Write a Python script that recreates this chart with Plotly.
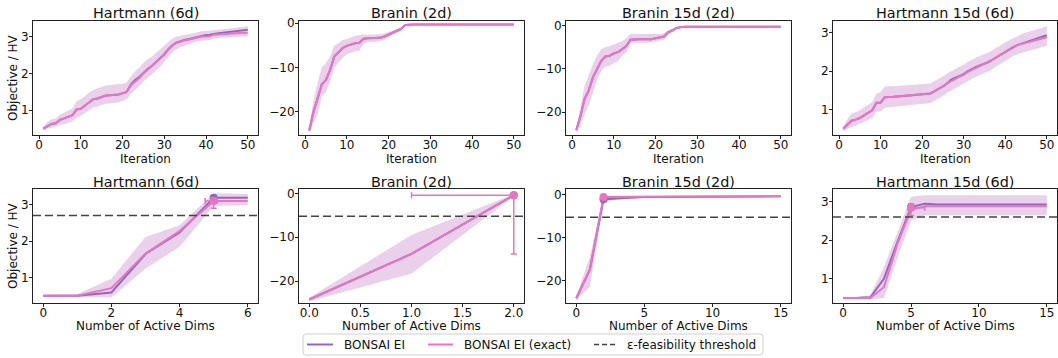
import plotly.graph_objects as go

W, H = 1058, 358
PURPLE = "#9467bd"
PINK = "#e377c2"
THR_COLOR = "#444444"
FONT = "DejaVu Sans"

# ---------------- data: top row (objective vs iteration) ----------------
iterations = list(range(1, 51))

h6_bonsai = [0.50, 0.57, 0.63, 0.65, 0.74, 0.78, 0.82, 0.87, 1.02, 1.04,
             1.13, 1.22, 1.30, 1.32, 1.36, 1.40, 1.41, 1.41, 1.43, 1.46,
             1.50, 1.70, 1.82, 1.90, 2.02, 2.12, 2.20, 2.30, 2.40, 2.52,
             2.66, 2.77, 2.84, 2.88, 2.91, 2.93, 2.96, 3.00, 3.03, 3.04,
             3.05, 3.08, 3.09, 3.10, 3.11, 3.12, 3.13, 3.15, 3.17, 3.18]
h6_exact = [0.50, 0.57, 0.63, 0.65, 0.74, 0.78, 0.82, 0.87, 1.02, 1.04,
            1.13, 1.22, 1.30, 1.32, 1.36, 1.40, 1.41, 1.41, 1.43, 1.46,
            1.50, 1.68, 1.78, 1.87, 2.00, 2.10, 2.18, 2.28, 2.38, 2.50,
            2.65, 2.76, 2.83, 2.87, 2.90, 2.92, 2.95, 2.98, 3.00, 3.00,
            3.01, 3.05, 3.06, 3.07, 3.08, 3.08, 3.08, 3.09, 3.10, 3.10]
h6_lo = [0.45, 0.50, 0.53, 0.55, 0.60, 0.63, 0.66, 0.70, 0.80, 0.85,
         0.93, 1.00, 1.08, 1.10, 1.15, 1.18, 1.20, 1.20, 1.22, 1.25,
         1.30, 1.45, 1.55, 1.65, 1.78, 1.88, 1.97, 2.07, 2.18, 2.30,
         2.45, 2.58, 2.66, 2.72, 2.76, 2.80, 2.83, 2.87, 2.89, 2.90,
         2.91, 2.95, 2.96, 2.97, 2.98, 2.99, 2.99, 3.00, 3.00, 3.00]
h6_hi = [0.55, 0.68, 0.76, 0.78, 0.88, 0.93, 0.98, 1.05, 1.25, 1.30,
         1.38, 1.48, 1.55, 1.60, 1.63, 1.67, 1.68, 1.68, 1.70, 1.72,
         1.75, 1.92, 2.05, 2.15, 2.28, 2.38, 2.45, 2.55, 2.63, 2.73,
         2.85, 2.95, 3.00, 3.03, 3.05, 3.07, 3.09, 3.12, 3.14, 3.15,
         3.16, 3.19, 3.20, 3.21, 3.22, 3.23, 3.24, 3.25, 3.26, 3.28]

br_bonsai = [-24.2, -20.0, -17.0, -13.8, -12.8, -10.5, -7.5, -6.5, -5.6, -5.1,
             -4.8, -4.5, -4.4, -3.5, -3.4, -3.4, -3.4, -3.3, -3.0, -2.6,
             -2.2, -1.8, -1.3, -0.4, -0.3, -0.3, -0.3, -0.3, -0.3, -0.3,
             -0.3, -0.3, -0.3, -0.3, -0.3, -0.3, -0.3, -0.3, -0.3, -0.3,
             -0.3, -0.3, -0.3, -0.3, -0.3, -0.3, -0.3, -0.3, -0.3, -0.3]
br_exact = [-24.2, -20.0, -17.0, -13.8, -12.8, -10.5, -7.5, -6.5, -5.6, -5.1,
            -4.8, -4.5, -4.4, -3.5, -3.4, -3.4, -3.4, -3.3, -3.0, -2.6,
            -2.2, -1.8, -1.3, -0.4, -0.3, -0.3, -0.3, -0.3, -0.3, -0.3,
            -0.3, -0.3, -0.3, -0.3, -0.3, -0.3, -0.3, -0.3, -0.3, -0.3,
            -0.3, -0.3, -0.3, -0.3, -0.3, -0.3, -0.3, -0.3, -0.3, -0.3]
br_lo = [-24.6, -22.5, -20.5, -16.5, -15.5, -13.0, -10.0, -9.0, -7.8, -7.0,
         -6.6, -6.3, -6.2, -4.6, -4.3, -4.2, -4.2, -4.0, -3.6, -3.2,
         -2.7, -2.2, -1.7, -0.6, -0.4, -0.4, -0.4, -0.4, -0.4, -0.4,
         -0.4, -0.4, -0.4, -0.4, -0.4, -0.4, -0.4, -0.4, -0.4, -0.4,
         -0.4, -0.4, -0.4, -0.4, -0.4, -0.4, -0.4, -0.4, -0.4, -0.4]
br_hi = [-23.8, -17.5, -13.5, -10.0, -9.0, -7.5, -5.0, -4.5, -3.8, -3.6,
         -3.2, -2.8, -2.7, -2.5, -2.6, -2.6, -2.6, -2.5, -2.3, -2.0,
         -1.7, -1.3, -0.9, -0.2, -0.2, -0.2, -0.2, -0.2, -0.2, -0.2,
         -0.2, -0.2, -0.2, -0.2, -0.2, -0.2, -0.2, -0.2, -0.2, -0.2,
         -0.2, -0.2, -0.2, -0.2, -0.2, -0.2, -0.2, -0.2, -0.2, -0.2]

b15_bonsai = [-24.2, -21.0, -17.0, -15.0, -12.0, -10.0, -8.2, -7.2, -7.0, -6.5,
              -6.2, -5.5, -4.8, -3.3, -3.2, -3.2, -3.2, -3.2, -3.2, -3.0,
              -2.8, -2.6, -1.6, -1.2, -0.6, -0.4, -0.3, -0.3, -0.3, -0.3,
              -0.3, -0.3, -0.3, -0.3, -0.3, -0.3, -0.3, -0.3, -0.3, -0.3,
              -0.3, -0.3, -0.3, -0.3, -0.3, -0.3, -0.3, -0.3, -0.3, -0.3]
b15_exact = [-24.2, -21.0, -17.0, -15.0, -12.0, -10.0, -8.2, -7.2, -7.0, -6.5,
             -6.2, -5.5, -4.8, -3.3, -3.2, -3.2, -3.2, -3.2, -3.2, -3.0,
             -2.8, -2.6, -1.6, -1.2, -0.6, -0.4, -0.3, -0.3, -0.3, -0.3,
             -0.3, -0.3, -0.3, -0.3, -0.3, -0.3, -0.3, -0.3, -0.3, -0.3,
             -0.3, -0.3, -0.3, -0.3, -0.3, -0.3, -0.3, -0.3, -0.3, -0.3]
b15_lo = [-24.6, -23.0, -20.5, -18.5, -15.5, -12.5, -10.5, -9.5, -9.3, -8.7,
          -8.3, -7.0, -6.2, -4.2, -4.0, -4.0, -4.0, -4.0, -3.9, -3.7,
          -3.5, -3.3, -2.2, -1.6, -0.9, -0.6, -0.4, -0.4, -0.4, -0.4,
          -0.4, -0.4, -0.4, -0.4, -0.4, -0.4, -0.4, -0.4, -0.4, -0.4,
          -0.4, -0.4, -0.4, -0.4, -0.4, -0.4, -0.4, -0.4, -0.4, -0.4]
b15_hi = [-23.8, -19.0, -14.0, -11.5, -9.0, -7.0, -5.5, -5.0, -4.8, -4.4,
          -4.0, -3.7, -3.0, -2.0, -2.0, -2.0, -2.0, -2.0, -2.1, -2.1,
          -2.0, -1.9, -1.1, -0.8, -0.4, -0.2, -0.2, -0.2, -0.2, -0.2,
          -0.2, -0.2, -0.2, -0.2, -0.2, -0.2, -0.2, -0.2, -0.2, -0.2,
          -0.2, -0.2, -0.2, -0.2, -0.2, -0.2, -0.2, -0.2, -0.2, -0.2]

h15_bonsai = [0.50, 0.60, 0.71, 0.74, 0.78, 0.85, 0.92, 0.98, 1.18, 1.18,
              1.32, 1.32, 1.33, 1.34, 1.35, 1.37, 1.38, 1.39, 1.40, 1.40,
              1.41, 1.42, 1.48, 1.53, 1.60, 1.68, 1.78, 1.83, 1.88, 1.92,
              2.00, 2.06, 2.11, 2.15, 2.19, 2.23, 2.30, 2.37, 2.43, 2.50,
              2.57, 2.63, 2.68, 2.71, 2.74, 2.77, 2.82, 2.86, 2.90, 2.93]
h15_exact = [0.50, 0.60, 0.71, 0.74, 0.78, 0.85, 0.92, 0.98, 1.18, 1.18,
             1.32, 1.32, 1.33, 1.34, 1.35, 1.37, 1.38, 1.39, 1.40, 1.40,
             1.41, 1.42, 1.48, 1.53, 1.60, 1.68, 1.75, 1.80, 1.86, 1.90,
             1.98, 2.03, 2.10, 2.15, 2.19, 2.23, 2.30, 2.37, 2.43, 2.50,
             2.57, 2.63, 2.68, 2.71, 2.74, 2.77, 2.80, 2.83, 2.86, 2.88]
h15_lo = [0.45, 0.50, 0.55, 0.58, 0.62, 0.68, 0.73, 0.78, 0.95, 0.95,
          1.05, 1.07, 1.08, 1.09, 1.10, 1.12, 1.13, 1.14, 1.15, 1.15,
          1.16, 1.17, 1.23, 1.28, 1.35, 1.43, 1.50, 1.56, 1.62, 1.66,
          1.74, 1.80, 1.86, 1.91, 1.95, 1.99, 2.06, 2.13, 2.19, 2.26,
          2.33, 2.39, 2.44, 2.47, 2.50, 2.53, 2.56, 2.60, 2.63, 2.66]
h15_hi = [0.55, 0.75, 0.90, 0.93, 0.98, 1.05, 1.12, 1.20, 1.42, 1.45,
          1.60, 1.60, 1.61, 1.61, 1.62, 1.63, 1.63, 1.64, 1.65, 1.65,
          1.66, 1.68, 1.74, 1.79, 1.86, 1.94, 2.01, 2.06, 2.11, 2.16,
          2.24, 2.30, 2.35, 2.40, 2.44, 2.48, 2.55, 2.62, 2.68, 2.74,
          2.80, 2.86, 2.92, 2.96, 3.00, 3.03, 3.06, 3.10, 3.13, 3.16]

# ---------------- data: bottom row (objective vs active dims) ----------------
h6_dims = [0, 1, 2, 3, 4, 5, 6]
h6d_bonsai = [0.50, 0.50, 0.59, 1.65, 2.24, 3.20, 3.20]
h6d_exact = [0.50, 0.50, 0.71, 1.66, 2.28, 3.11, 3.11]
h6d_lo = [0.47, 0.47, 0.45, 1.25, 1.85, 2.97, 3.00]
h6d_hi = [0.53, 0.55, 0.97, 2.12, 2.44, 3.32, 3.30]
h6d_thr = 2.71
h6d_pt_bonsai = (5, 3.20)
h6d_pt_exact = (5, 3.11)
h6d_err_exact = {"xm": 0.25, "xp": 0.10, "ym": 0.20, "yp": 0.08}

br_dims = [0, 1, 2]
brd_bonsai = [-24.2, -13.8, -0.4]
brd_exact = [-24.2, -13.8, -0.4]
brd_lo = [-24.6, -18.3, -0.6]
brd_hi = [-23.8, -9.5, -0.2]
brd_thr = -5.2
brd_pt_bonsai = (2, -0.4)
brd_pt_exact = (2, -0.4)
brd_err_exact = {"xm": 1.0, "xp": 0.0, "ym": 13.4, "yp": 0.0}

b15_dims = list(range(16))
b15d_bonsai = [-24.2, -17.5, -1.0, -0.8, -0.6, -0.5, -0.45, -0.42, -0.4, -0.38,
               -0.36, -0.35, -0.34, -0.33, -0.32, -0.32]
b15d_exact = [-24.2, -17.5, -0.5, -0.45, -0.4, -0.4, -0.38, -0.36, -0.35, -0.34,
              -0.33, -0.32, -0.31, -0.3, -0.3, -0.3]
b15d_lo = [-24.6, -21.5, -1.8, -1.0, -0.7, -0.6, -0.5, -0.5, -0.5, -0.45,
           -0.45, -0.4, -0.4, -0.4, -0.4, -0.4]
b15d_hi = [-23.8, -14.5, -0.2, -0.2, -0.2, -0.2, -0.2, -0.2, -0.2, -0.2,
           -0.2, -0.2, -0.2, -0.2, -0.2, -0.2]
b15d_thr = -5.2
b15d_pt_bonsai = (2, -1.0)
b15d_pt_exact = (2, -0.5)
b15d_err_exact = {"xm": 0.05, "xp": 0.05, "ym": 0.2, "yp": 0.2}

h15_dims = list(range(16))
h15d_bonsai = [0.50, 0.50, 0.52, 1.00, 1.96, 2.86, 2.95, 2.93, 2.93, 2.93,
               2.93, 2.93, 2.93, 2.93, 2.93, 2.93]
h15d_exact = [0.50, 0.50, 0.50, 0.78, 1.91, 2.80, 2.88, 2.88, 2.88, 2.88,
              2.88, 2.88, 2.88, 2.88, 2.88, 2.88]
h15d_lo = [0.47, 0.47, 0.47, 0.50, 1.55, 2.52, 2.65, 2.65, 2.65, 2.65,
           2.65, 2.65, 2.65, 2.65, 2.65, 2.65]
h15d_hi = [0.53, 0.53, 0.57, 1.30, 2.20, 3.13, 3.17, 3.17, 3.17, 3.17,
           3.17, 3.17, 3.17, 3.17, 3.17, 3.17]
h15d_thr = 2.60
h15d_pt_bonsai = (5, 2.86)
h15d_pt_exact = (5, 2.84)
h15d_err_exact = {"xm": 0.25, "xp": 1.0, "ym": 0.2, "yp": 0.1}

titles = ["Hartmann (6d)", "Branin (2d)", "Branin 15d (2d)", "Hartmann 15d (6d)"]
legend_labels = ["BONSAI EI", "BONSAI EI (exact)", "ε-feasibility threshold"]

# ---------------- layout geometry (pixels) ----------------
cols_px = [(33, 258), (299, 524), (566, 791), (833, 1057)]
rows_px = [(21, 135), (189, 303)]

top_panels = [
    (iterations, h6_bonsai, h6_exact, h6_lo, h6_hi, [0.33, 3.42], [1, 2, 3]),
    (iterations, br_bonsai, br_exact, br_lo, br_hi, [-25.2, 0.5], [-20, -10, 0]),
    (iterations, b15_bonsai, b15_exact, b15_lo, b15_hi, [-25.3, 1.0], [-20, -10, 0]),
    (iterations, h15_bonsai, h15_exact, h15_lo, h15_hi, [0.34, 3.3], [1, 2, 3]),
]
bottom_panels = [
    (h6_dims, h6d_bonsai, h6d_exact, h6d_lo, h6d_hi, [0.3, 3.44], [1, 2, 3],
     [-0.3, 6.3], [0, 2, 4, 6], None, h6d_thr, h6d_pt_bonsai, h6d_pt_exact, h6d_err_exact),
    (br_dims, brd_bonsai, brd_exact, brd_lo, brd_hi, [-25.0, 1.0], [-20, -10, 0],
     [-0.1, 2.1], [0, 0.5, 1.0, 1.5, 2.0], ".1f", brd_thr, brd_pt_bonsai, brd_pt_exact, brd_err_exact),
    (b15_dims, b15d_bonsai, b15d_exact, b15d_lo, b15d_hi, [-25.3, 1.4], [-20, -10, 0],
     [-0.75, 15.75], [0, 5, 10, 15], None, b15d_thr, b15d_pt_bonsai, b15d_pt_exact, b15d_err_exact),
    (h15_dims, h15d_bonsai, h15d_exact, h15d_lo, h15d_hi, [0.37, 3.33], [1, 2, 3],
     [-0.75, 15.75], [0, 5, 10, 15], None, h15d_thr, h15d_pt_bonsai, h15d_pt_exact, h15d_err_exact),
]

fig = go.Figure()
layout = {}
annotations = []
shapes = []


def px(x):
    return x / W


def py(y):
    return 1 - y / H


axis_common = dict(
    showline=True, mirror=True, linecolor="#222222", linewidth=1,
    ticks="outside", ticklen=3, tickwidth=1, tickcolor="#222222",
    showgrid=False, zeroline=False, automargin=False,
    tickfont=dict(family=FONT, size=12, color="#111111"),
)


def band(xs, lo, hi, color, xa, ya):
    fig.add_trace(go.Scatter(
        x=list(xs) + list(xs)[::-1], y=list(hi) + list(lo)[::-1],
        fill="toself", fillcolor=color, line=dict(width=0),
        mode="lines", showlegend=False, hoverinfo="skip",
        xaxis=xa, yaxis=ya))


def line(xs, ys, color, xa, ya, name):
    fig.add_trace(go.Scatter(
        x=xs, y=ys, mode="lines", line=dict(color=color, width=2),
        name=name, showlegend=False, xaxis=xa, yaxis=ya))


def add_axes(idx, row, col, xrange, xticks, yrange, yticks, xfmt=None):
    c0, c1 = cols_px[col]
    r0, r1 = rows_px[row]
    xd = [px(c0), px(c1)]
    yd = [py(r1), py(r0)]
    sx = "" if idx == 1 else str(idx)
    xa = dict(axis_common, domain=xd, range=xrange, tickvals=xticks,
              anchor="y" + sx, ticklabelstandoff=-4)
    if xfmt:
        xa["tickformat"] = xfmt
    ya = dict(axis_common, domain=yd, range=yrange, tickvals=yticks,
              anchor="x" + sx, ticklabelstandoff=-2)
    layout["xaxis" + sx] = xa
    layout["yaxis" + sx] = ya
    return "x" + sx, "y" + sx, (c0 + c1) / 2


def text(t, x, y, size=12, xanchor="center", angle=0):
    annotations.append(dict(text=t, x=px(x), y=py(y), xref="paper", yref="paper",
                            xanchor=xanchor, yanchor="middle", showarrow=False,
                            textangle=angle,
                            font=dict(family=FONT, size=size, color="#111111")))


for col, (xs, yb, ye, lo, hi, yr, yt) in enumerate(top_panels):
    xa, ya, cx = add_axes(col + 1, 0, col, [-1.45, 52.45], [0, 10, 20, 30, 40, 50], yr, yt)
    band(xs, lo, hi, "rgba(148,103,189,0.18)", xa, ya)
    band(xs, lo, hi, "rgba(227,119,194,0.18)", xa, ya)
    line(xs, yb, PURPLE, xa, ya, legend_labels[0])
    line(xs, ye, PINK, xa, ya, legend_labels[1])
    text(titles[col], cx, 13, size=14.4)
    text("Iteration", cx, 159)

for col, p in enumerate(bottom_panels):
    (xs, yb, ye, lo, hi, yr, yt, xr, xt, xfmt, thr, ptb, pte, err) = p
    xa, ya, cx = add_axes(col + 5, 1, col, xr, xt, yr, yt, xfmt)
    band(xs, lo, hi, "rgba(148,103,189,0.18)", xa, ya)
    band(xs, lo, hi, "rgba(227,119,194,0.18)", xa, ya)
    line(xs, yb, PURPLE, xa, ya, legend_labels[0])
    line(xs, ye, PINK, xa, ya, legend_labels[1])
    fig.add_trace(go.Scatter(
        x=[ptb[0]], y=[ptb[1]], mode="markers",
        marker=dict(color=PURPLE, size=8), showlegend=False, xaxis=xa, yaxis=ya))
    fig.add_trace(go.Scatter(
        x=[pte[0]], y=[pte[1]], mode="markers",
        marker=dict(color=PINK, size=8), showlegend=False, xaxis=xa, yaxis=ya,
        error_x=dict(type="data", symmetric=False, array=[err["xp"]], arrayminus=[err["xm"]],
                     color=PINK, thickness=1.5, width=3),
        error_y=dict(type="data", symmetric=False, array=[err["yp"]], arrayminus=[err["ym"]],
                     color=PINK, thickness=1.5, width=3)))
    shapes.append(dict(type="line", xref=xa + " domain", yref=ya, x0=0, x1=1, y0=thr, y1=thr,
                       line=dict(color=THR_COLOR, width=1.5, dash="8px,4px")))
    text(titles[col], cx, 182, size=14.4)
    text("Number of Active Dims", cx, 326)

for r in range(2):
    r0, r1 = rows_px[r]
    text("Objective / HV", 13, (r0 + r1) / 2, angle=-90)

# ---------------- legend (drawn as a framed box below the panels) ----------------
lx0, lx1, ly0, ly1, rad = 303, 763, 334, 355, 3
rx, ry = rad / W, rad / H
X0, X1, Y0, Y1 = px(lx0), px(lx1), py(ly0), py(ly1)
shapes.append(dict(
    type="path", xref="paper", yref="paper",
    path=(f"M{X0 + rx},{Y0} H{X1 - rx} Q{X1},{Y0} {X1},{Y0 - ry} "
          f"V{Y1 + ry} Q{X1},{Y1} {X1 - rx},{Y1} H{X0 + rx} "
          f"Q{X0},{Y1} {X0},{Y1 + ry} V{Y0 - ry} Q{X0},{Y0} {X0 + rx},{Y0} Z"),
    line=dict(color="#d0d0d0", width=1), fillcolor="rgba(255,255,255,0.8)", layer="above"))
ly = 344.5
legend_items = [
    (307, 333, 342, PURPLE, "solid", 2),
    (428, 453, 462, PINK, "solid", 2),
    (594, 618, 625, THR_COLOR, "5px,3px", 1.5),
]
for (a, b, tx, color, dash, w), label in zip(legend_items, legend_labels):
    shapes.append(dict(type="line", xref="paper", yref="paper", x0=px(a), x1=px(b),
                       y0=py(ly), y1=py(ly), line=dict(color=color, width=w, dash=dash),
                       layer="above"))
    text(label, tx, ly, xanchor="left")

fig.update_layout(
    width=W, height=H,
    margin=dict(l=0, r=0, t=0, b=0),
    paper_bgcolor="white", plot_bgcolor="white",
    font=dict(family=FONT, size=12, color="#111111"),
    showlegend=False,
    annotations=annotations, shapes=shapes,
    **layout,
)

fig.write_html("out.html")
